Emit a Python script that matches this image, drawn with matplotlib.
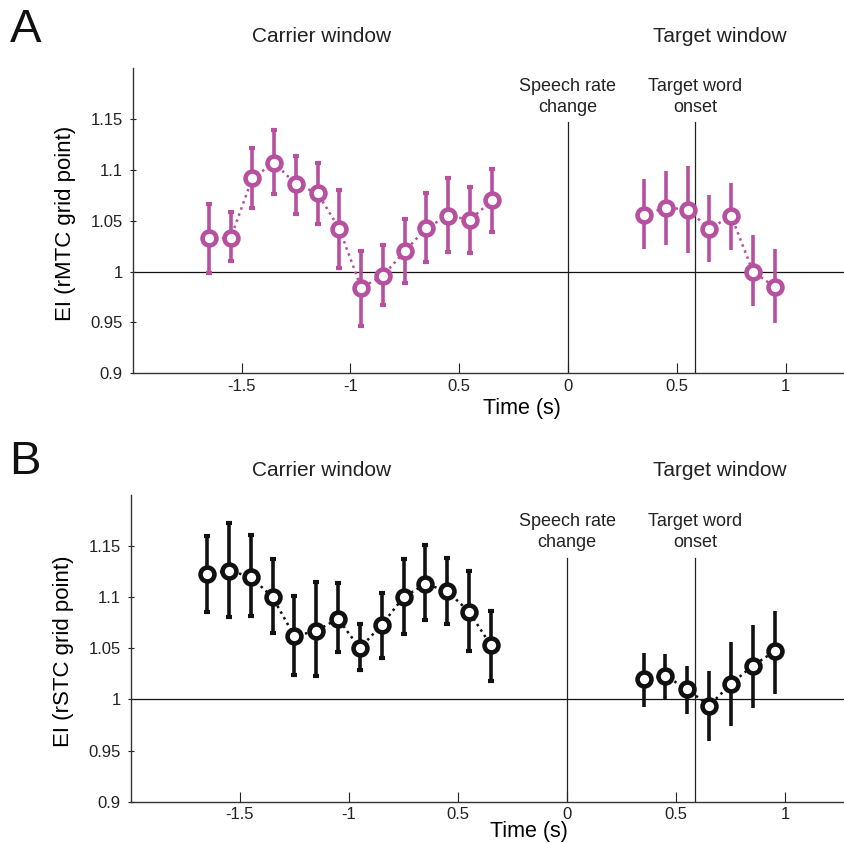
import matplotlib
matplotlib.use("Agg")
from matplotlib import pyplot as plt
from matplotlib.transforms import blended_transform_factory

plt.rcParams["font.family"] = ["Liberation Sans", "DejaVu Sans"]

# Carrier window (14 time bins) and target window (7 time bins)
carrier_t = [-1.65, -1.55, -1.45, -1.35, -1.25, -1.15, -1.05,
             -0.95, -0.85, -0.75, -0.65, -0.55, -0.45, -0.35]
target_t = [0.35, 0.45, 0.55, 0.65, 0.75, 0.85, 0.95]

# Panel A: rMTC grid point
a_carrier = [1.033, 1.033, 1.092, 1.107, 1.086, 1.077, 1.042,
             0.984, 0.996, 1.020, 1.043, 1.055, 1.051, 1.070]
a_carrier_lo = [0.999, 1.010, 1.063, 1.076, 1.057, 1.047, 1.004,
                0.947, 0.967, 0.989, 1.009, 1.019, 1.018, 1.039]
a_carrier_hi = [1.067, 1.059, 1.122, 1.139, 1.114, 1.107, 1.080,
                1.020, 1.026, 1.052, 1.077, 1.092, 1.083, 1.101]
a_target = [1.056, 1.063, 1.061, 1.042, 1.055, 1.000, 0.985]
a_target_lo = [1.022, 1.026, 1.018, 1.009, 1.021, 0.966, 0.949]
a_target_hi = [1.091, 1.099, 1.104, 1.075, 1.087, 1.036, 1.022]

# Panel B: rSTC grid point
b_carrier = [1.123, 1.126, 1.120, 1.100, 1.062, 1.067, 1.079,
             1.050, 1.073, 1.100, 1.113, 1.106, 1.086, 1.053]
b_carrier_lo = [1.086, 1.081, 1.082, 1.065, 1.024, 1.023, 1.046,
                1.029, 1.041, 1.064, 1.078, 1.074, 1.047, 1.018]
b_carrier_hi = [1.160, 1.173, 1.161, 1.137, 1.101, 1.115, 1.114,
                1.074, 1.104, 1.137, 1.151, 1.138, 1.126, 1.087]
b_target = [1.020, 1.023, 1.010, 0.994, 1.015, 1.033, 1.047]
b_target_lo = [0.993, 1.000, 0.986, 0.959, 0.974, 0.992, 1.005]
b_target_hi = [1.045, 1.044, 1.033, 1.028, 1.056, 1.073, 1.087]

xticks = [-1.5, -1, -0.5, 0, 0.5, 1]
xtick_labels = ["-1.5", "-1", "0.5", "0", "0.5", "1"]
yticks = [0.9, 0.95, 1, 1.05, 1.1, 1.15]
ytick_labels = ["0.9", "0.95", "1", "1.05", "1.1", "1.15"]

ONSET = 0.585
MAGENTA = "#B6509F"
BLACK = "#111111"


def draw_series(ax, t, y, lo, hi, color, caps):
    yerr = [[v - l for v, l in zip(y, lo)], [h - v for v, h in zip(y, hi)]]
    ax.plot(t, y, linestyle=(0, (1, 1.6)), linewidth=1.8, color=color, zorder=2)
    ax.errorbar(t, y, yerr=yerr, fmt="none", ecolor=color, elinewidth=2.6,
                capsize=2.4 if caps else 0, capthick=3, zorder=3)
    ax.plot(t, y, linestyle="none", marker="o", markersize=10,
            markerfacecolor="white", markeredgecolor=color,
            markeredgewidth=3.3, zorder=4)


def setup_axes(ax, ylabel, label_y, line_top):
    ax.set_xlim(-2, 1.273)
    ax.set_ylim(0.9, 1.2)
    for side in ("top", "right"):
        ax.spines[side].set_visible(False)
    for side in ("left", "bottom"):
        ax.spines[side].set_color("#333333")
        ax.spines[side].set_linewidth(1.0)
    ax.set_xticks(xticks)
    ax.set_xticklabels(xtick_labels)
    ax.set_yticks(yticks)
    ax.set_yticklabels(ytick_labels)
    ax.tick_params(axis="x", direction="in", length=7, width=0.8,
                   labelsize=12, pad=4, colors="#222222")
    ax.tick_params(axis="y", direction="inout", length=4, width=0.8,
                   labelsize=12, pad=5, colors="#222222")
    ax.axhline(1, color=BLACK, linewidth=0.9, zorder=1)
    ax.set_ylabel(ylabel, fontsize=16)
    ax.yaxis.set_label_coords(-0.08, 0.49)
    ax.set_xlabel("Time (s)", fontsize=15.5)
    tr = blended_transform_factory(ax.transData, ax.transAxes)
    for xv, txt in [(0, "Speech rate\nchange"), (ONSET, "Target word\nonset")]:
        ax.plot([xv, xv], [0, line_top], transform=tr, color="#222222",
                linewidth=0.9, zorder=1)
        ax.text(xv, label_y, txt, transform=tr, ha="center", va="center",
                fontsize=13, linespacing=1.3, color="#222222")


fig = plt.figure(figsize=(8.45, 8.43), dpi=100)
axA = fig.add_axes([132.7 / 845, 1 - 373.3 / 843, (845 - 132.7) / 845, 305 / 843])
axB = fig.add_axes([130.7 / 845, 1 - 801.7 / 843, (845 - 130.7) / 845, 306.7 / 843])

setup_axes(axA, "EI (rMTC grid point)", 0.906, 0.825)
setup_axes(axB, "EI (rSTC grid point)", 0.878, 0.794)
axA.xaxis.set_label_coords(0.546, -0.08)
axB.xaxis.set_label_coords(0.558, -0.064)

draw_series(axA, carrier_t, a_carrier, a_carrier_lo, a_carrier_hi, MAGENTA, True)
draw_series(axA, target_t, a_target, a_target_lo, a_target_hi, MAGENTA, False)
draw_series(axB, carrier_t, b_carrier, b_carrier_lo, b_carrier_hi, BLACK, True)
draw_series(axB, target_t, b_target, b_target_lo, b_target_hi, BLACK, False)

fig.text(26 / 845, 1 - 30 / 843, "A", fontsize=34, ha="center", va="center", color="#111111")
fig.text(25 / 845, 1 - 462 / 843, "B", fontsize=34, ha="center", va="center", color="#111111")
for yy in (37, 470):
    fig.text(322 / 845, 1 - yy / 843, "Carrier window", fontsize=15,
             ha="center", va="center", color="#222222")
    fig.text(720 / 845, 1 - yy / 843, "Target window", fontsize=15,
             ha="center", va="center", color="#222222")

fig.savefig("out.png", dpi=100)
